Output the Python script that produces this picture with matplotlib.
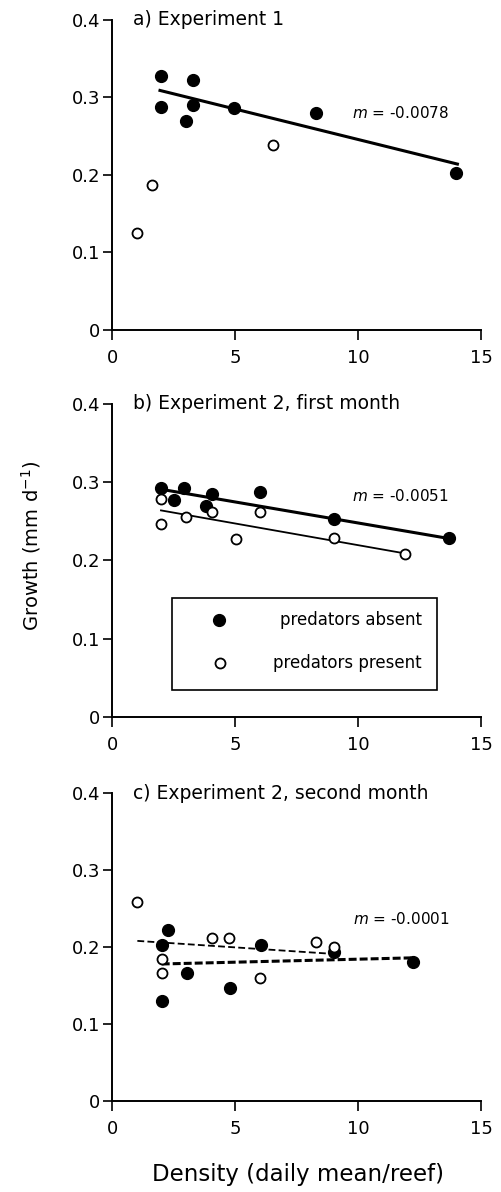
import matplotlib
matplotlib.use('Agg')
import matplotlib.pyplot as plt
from matplotlib.patches import Rectangle

# panel a) Experiment 1
a_abs_x = [1.98, 1.98, 3.31, 3.31, 2.99, 4.97, 8.29, 13.98]
a_abs_y = [0.327, 0.288, 0.323, 0.290, 0.270, 0.286, 0.280, 0.202]
a_pres_x = [1.0, 1.61, 6.56]
a_pres_y = [0.125, 0.187, 0.239]
a_fit_x = [1.95, 14.04]
a_fit_y = [0.309, 0.214]

# panel b) Experiment 2, first month
b_abs_x = [1.99, 2.93, 2.52, 4.05, 3.82, 6.02, 9.04, 13.71]
b_abs_y = [0.293, 0.293, 0.277, 0.285, 0.270, 0.287, 0.253, 0.229]
b_pres_x = [1.99, 1.99, 3.01, 4.05, 5.03, 6.02, 9.04, 11.91]
b_pres_y = [0.278, 0.247, 0.256, 0.262, 0.228, 0.262, 0.229, 0.208]
b_fit_abs_x = [1.99, 13.71]
b_fit_abs_y = [0.291, 0.228]
b_fit_pres_x = [1.99, 11.91]
b_fit_pres_y = [0.264, 0.209]

# panel c) Experiment 2, second month
c_abs_x = [2.29, 2.02, 2.02, 3.04, 4.80, 6.04, 9.04, 12.25]
c_abs_y = [0.222, 0.203, 0.130, 0.166, 0.147, 0.203, 0.193, 0.180]
c_pres_x = [1.03, 2.02, 2.02, 4.05, 4.77, 6.02, 8.28, 9.04]
c_pres_y = [0.258, 0.185, 0.166, 0.212, 0.212, 0.160, 0.207, 0.200]
c_fit_abs_x = [2.02, 12.25]
c_fit_abs_y = [0.178, 0.186]
c_fit_pres_x = [1.03, 9.04]
c_fit_pres_y = [0.208, 0.191]

titles = ['a) Experiment 1', 'b) Experiment 2, first month', 'c) Experiment 2, second month']
slopes = ['$m$ = -0.0078', '$m$ = -0.0051', '$m$ = -0.0001']
xticks = [0, 5, 10, 15]
yticks = [0, 0.1, 0.2, 0.3, 0.4]
ytick_labels = ['0', '0.1', '0.2', '0.3', '0.4']

plt.rcParams['font.family'] = ['DejaVu Sans']
plt.rcParams['mathtext.fontset'] = 'dejavusans'

fig = plt.figure(figsize=(5.01, 11.92), dpi=100)
fig.patch.set_facecolor('white')

left, width = 0.2236, 0.7365
ax_a = fig.add_axes([left, 0.7232, width, 0.2601])
ax_b = fig.add_axes([left, 0.3985, width, 0.2626])
ax_c = fig.add_axes([left, 0.0763, width, 0.2584])

filled = dict(linestyle='none', marker='o', markersize=8.5, color='black', clip_on=False)
hollow = dict(linestyle='none', marker='o', markersize=7.2, markerfacecolor='white',
              markeredgecolor='black', markeredgewidth=1.3, clip_on=False)

ax_a.plot(a_fit_x, a_fit_y, color='black', lw=2.2)
ax_a.plot(a_abs_x, a_abs_y, **filled)
ax_a.plot(a_pres_x, a_pres_y, **hollow)

ax_b.plot(b_fit_abs_x, b_fit_abs_y, color='black', lw=2.2)
ax_b.plot(b_fit_pres_x, b_fit_pres_y, color='black', lw=1.3)
ax_b.plot(b_abs_x, b_abs_y, **filled)
ax_b.plot(b_pres_x, b_pres_y, **hollow)

ax_c.plot(c_fit_pres_x, c_fit_pres_y, color='black', lw=1.3, dashes=(3.8, 1.8))
ax_c.plot(c_fit_abs_x, c_fit_abs_y, color='black', lw=2.2, dashes=(2.6, 1.0))
ax_c.plot(c_abs_x, c_abs_y, **filled)
ax_c.plot(c_pres_x, c_pres_y, **hollow)

slope_pos = [(0.65, 0.70), (0.65, 0.706), (0.653, 0.591)]
for ax, title, m, (mx, my) in zip([ax_a, ax_b, ax_c], titles, slopes, slope_pos):
    ax.set_xlim(0, 15)
    ax.set_ylim(0, 0.4)
    ax.set_xticks(xticks)
    ax.set_yticks(yticks)
    ax.set_yticklabels(ytick_labels)
    ax.spines['top'].set_visible(False)
    ax.spines['right'].set_visible(False)
    ax.spines['left'].set_linewidth(1.4)
    ax.spines['bottom'].set_linewidth(1.4)
    ax.tick_params(axis='x', direction='out', length=7, width=1.2, pad=7, labelsize=13)
    ax.tick_params(axis='y', direction='out', length=6.5, width=1.2, pad=2, labelsize=13)
    ax.text(0.058, 1.0, title, transform=ax.transAxes, fontsize=13.5, va='center', ha='left')
    ax.text(mx, my, m, transform=ax.transAxes, fontsize=11, va='center', ha='left')

# legend box in panel b
ax_b.add_patch(Rectangle((0.162, 0.086), 0.718, 0.293, transform=ax_b.transAxes,
                         fill=False, edgecolor='black', lw=1.2))
ax_b.plot([0.29], [0.31], transform=ax_b.transAxes, **filled)
ax_b.plot([0.293], [0.173], transform=ax_b.transAxes, **hollow)
ax_b.text(0.84, 0.31, 'predators absent', transform=ax_b.transAxes, fontsize=12,
          ha='right', va='center')
ax_b.text(0.84, 0.173, 'predators present', transform=ax_b.transAxes, fontsize=12,
          ha='right', va='center')

fig.text(31 / 501, 1 - 546 / 1192, 'Growth (mm d$^{-1}$)', rotation=90, fontsize=14,
         ha='center', va='center')
fig.text(298 / 501, 1 - 1175 / 1192, 'Density (daily mean/reef)', fontsize=16.5,
         ha='center', va='center')

fig.savefig('out.png', dpi=100, facecolor='white')
